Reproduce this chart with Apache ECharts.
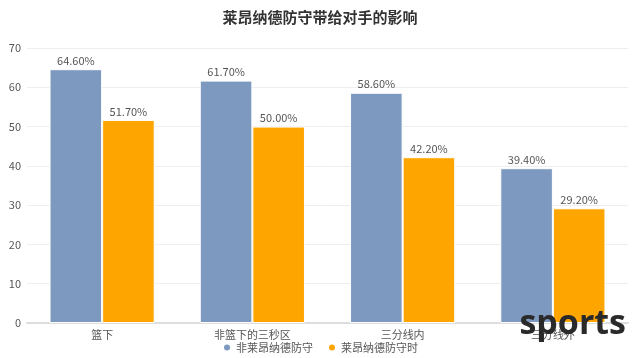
<!DOCTYPE html>
<html><head><meta charset="utf-8">
<script src="https://cdn.jsdelivr.net/npm/echarts@6/dist/echarts.min.js"></script>
<style>html,body{margin:0;padding:0;background:#fff}#c{width:640px;height:358px}</style>
</head><body><div id="c"></div>
<script>
const categories = ['篮下', '非篮下的三秒区', '三分线内', '三分线外'];
const seriesNames = ['非莱昂纳德防守', '莱昂纳德防守时'];
const nonLeonard = [64.6, 61.7, 58.6, 39.4];
const leonard = [51.7, 50.0, 42.2, 29.2];
const yTicks = [0, 10, 20, 30, 40, 50, 60, 70];

const chart = echarts.init(document.getElementById('c'));
const font = '"Noto Sans CJK SC", "Noto Sans", sans-serif';
const lbl = {show: true, position: 'top', distance: 3, color: '#555', fontSize: 11, fontFamily: font,
  formatter: p => p.value.toFixed(2) + '%'};
chart.setOption({
  animation: false,
  title: {text: '莱昂纳德防守带给对手的影响', left: 'center', top: 5,
    textStyle: {fontSize: 15, fontWeight: 'bold', color: '#333', fontFamily: font}},
  legend: {bottom: 0, itemWidth: 8, itemHeight: 8, icon: 'circle', itemGap: 14,
    textStyle: {fontSize: 11, color: '#555', fontFamily: font}},
  grid: {left: 27, right: 12, top: 48, bottom: 35},
  xAxis: {type: 'category', data: categories,
    axisLine: {lineStyle: {color: '#ddd', width: 2}}, axisTick: {show: false},
    axisLabel: {color: '#555', fontSize: 11, fontFamily: font, margin: 6}},
  yAxis: {type: 'value', min: yTicks[0], max: yTicks[yTicks.length - 1], interval: 10,
    axisLine: {show: false}, axisTick: {show: false},
    splitLine: {lineStyle: {color: '#eee'}},
    axisLabel: {color: '#555', fontSize: 11, fontFamily: font, margin: 6}},
  series: [
    {name: seriesNames[0], type: 'bar', data: nonLeonard, barWidth: '35%', barGap: '0%',
      itemStyle: {color: '#7e99c0', borderColor: '#fff', borderWidth: 1}, label: lbl},
    {name: seriesNames[1], type: 'bar', data: leonard, barWidth: '35%',
      itemStyle: {color: '#ffa500', borderColor: '#fff', borderWidth: 1}, label: lbl}
  ],
  graphic: [{type: 'text', right: 14, top: 307, z: 100,
    style: {text: 'sports', fontSize: 34, fontWeight: 'bold', fill: '#2a2a2a', fontFamily: '"Open Sans", sans-serif'}}]
});
</script></body></html>
